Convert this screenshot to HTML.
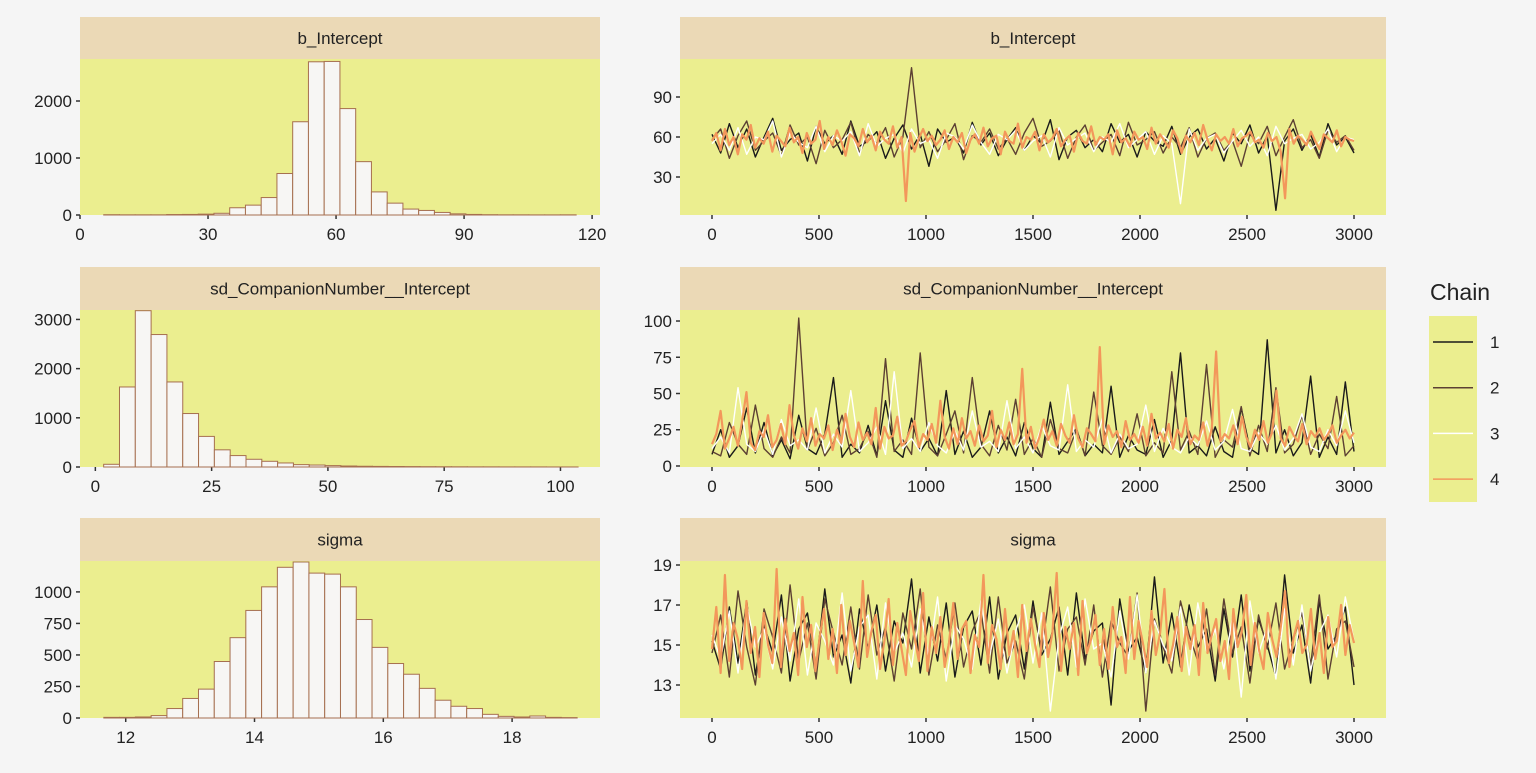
<!DOCTYPE html>
<html><head><meta charset="utf-8"><style>
html,body{margin:0;padding:0;background:#f5f5f5;}
svg text{font-family:"Liberation Sans",sans-serif;fill:#222;}
</style></head><body>
<svg id="c" width="1536" height="768" xmlns="http://www.w3.org/2000/svg">
<rect width="1536" height="768" fill="#f5f5f5"/>
<g id="legend">
<text x="1430" y="300" font-size="23">Chain</text>
<rect x="1429" y="316" width="48" height="186" fill="#ebee8f"/>
</g>
</svg>
<script>
// histogram data
const h1Start = 5.56, h1Width = 3.69;
const h1Counts = [5,3,3,3,8,10,15,30,127,173,306,728,1636,2688,2694,1867,936,405,208,104,80,45,20,10,5,3,3,2,2,3];
const h2Start = 1.79, h2Width = 3.4;
const h2Counts = [55,1627,3178,2693,1729,1087,622,349,232,157,116,82,48,40,28,20,15,12,10,8,6,5,4,3,3,2,2,2,1,1];
const h3Start = 11.66, h3Width = 0.245;
const h3Counts = [5,5,8,19,75,155,229,448,637,853,1040,1195,1237,1149,1141,1040,781,560,432,347,235,141,93,75,29,13,8,16,5,3];
const h1XTicks = [0,30,60,90,120], h1YTicks = [0,1000,2000];
const h2XTicks = [0,25,50,75,100], h2YTicks = [0,1000,2000,3000];
const h3XTicks = [12,14,16,18], h3YTicks = [0,250,500,750,1000];
const traceXTicks = [0,500,1000,1500,2000,2500,3000];
const t1YTicks = [30,60,90], t2YTicks = [0,25,50,75,100], t3YTicks = [13,15,17,19];
const chainNames = ["1","2","3","4"];
const chainColors = ["#1a1a1a","#5c4033","#ffffff","#f3975b"];
// trace data (values sampled evenly over 0..3000 iterations)
const b1 = [62,48,70,52,66,45,60,74,50,58,63,42,68,55,61,47,72,53,57,64,44,59,69,51,62,38,66,56,60,48,71,54,63,46,58,67,50,61,55,73,43,60,65,52,58,49,70,56,62,45,64,57,53,68,47,60,66,51,59,42,63,55,69,48,61,5,57,66,50,62,45,70,54,60,48];
const b2 = [58,66,44,61,72,50,57,63,46,69,54,60,40,65,52,58,71,48,62,55,67,45,60,112,52,64,49,58,70,43,61,56,66,51,59,47,63,74,53,57,65,44,60,69,50,56,62,46,71,54,58,64,48,60,52,67,45,59,63,50,57,38,62,55,68,46,60,73,52,58,44,65,56,61,50];
const b3 = [55,62,50,67,47,60,58,72,45,63,56,52,68,49,61,57,64,46,70,53,59,62,48,66,55,58,44,63,60,51,69,56,47,62,58,65,50,57,61,45,67,54,59,63,49,60,56,70,52,58,64,47,61,55,10,66,50,59,62,48,57,65,53,60,46,68,55,59,62,51,56,66,49,60,58];
const b4 = [57,63,50,66,54,60,47,62,58,69,52,59,55,64,49,61,57,53,67,56,60,48,63,55,58,72,51,60,54,65,57,46,62,59,53,66,56,61,50,64,58,55,68,52,60,12,63,49,59,66,57,61,54,58,65,51,60,56,63,48,58,62,55,67,53,59,61,47,64,57,55,70,52,60,58,64,50,62,56,59,66,53,58,61,49,63,57,55,68,54,60,58,62,47,65,56,59,53,64,58,60,51,67,55,62,57,52,65,59,48,61,56,63,54,69,58,50,62,57,60,55,66,53,59,61,64,56,58,52,63,57,60,49,14,66,55,61,58,54,64,57,51,62,59,56,65,53,60,58,57];
const s1 = [8,25,6,14,40,9,30,7,18,5,35,12,8,22,61,6,15,9,28,7,45,11,6,33,10,19,7,52,8,24,6,13,38,9,20,7,30,12,6,44,8,17,26,7,15,9,55,6,21,11,8,32,6,18,78,9,14,7,27,10,6,40,12,8,87,9,25,7,16,62,6,20,8,58,10];
const s2 = [10,7,30,15,8,42,12,6,20,9,102,11,26,7,16,35,8,12,24,6,74,10,18,8,78,13,7,22,38,9,61,15,7,28,11,46,8,19,6,32,12,9,25,7,51,14,8,20,10,36,7,16,9,65,11,24,8,70,6,18,13,41,7,28,10,54,9,15,35,8,22,12,48,7,14];
const s3 = [12,20,9,54,15,10,25,8,32,14,18,11,40,9,22,13,52,10,16,27,8,65,12,19,10,30,14,9,24,11,38,13,17,10,45,12,20,9,28,14,11,56,10,18,13,33,9,22,12,15,42,10,26,13,9,20,14,31,11,17,39,12,10,23,15,28,11,19,36,13,10,25,14,38,16];
const s4 = [15,22,38,12,19,27,14,31,51,16,11,24,20,35,13,18,29,15,42,21,12,26,17,33,14,22,19,28,11,25,16,36,20,13,30,18,23,15,40,12,27,19,21,34,14,17,25,31,13,22,18,29,16,45,20,12,26,15,33,19,24,14,28,17,21,38,13,25,18,30,15,22,67,16,27,12,20,32,18,24,14,29,21,16,35,19,13,26,22,17,82,15,28,20,24,13,31,18,22,16,27,14,36,19,23,17,29,12,25,20,33,15,21,18,30,14,26,79,17,22,19,28,15,34,20,13,25,18,31,16,23,52,19,14,27,21,17,29,15,24,20,26,18,22,28,16,21,25,19,23];
const g1 = [15.2,13.8,16.9,14.1,17.2,13.5,16.0,14.6,17.5,13.2,15.8,16.6,13.9,17.8,14.4,15.5,13.1,16.8,14.8,17.0,13.7,16.2,15.1,18.3,13.6,16.4,14.2,17.1,13.4,15.9,16.7,14.0,17.4,13.3,15.6,16.5,13.8,17.2,14.5,15.3,16.9,13.5,17.6,14.3,15.7,16.1,12.0,17.3,14.7,15.4,13.6,18.4,14.1,16.6,13.9,17.0,14.9,15.8,13.2,16.8,14.4,17.5,13.7,16.3,15.0,13.4,18.5,14.6,16.0,13.1,17.2,14.8,15.5,16.9,13.0];
const g2 = [14.6,16.5,13.4,17.7,14.9,13.0,16.8,15.4,13.6,18.0,14.2,16.1,13.3,17.3,15.6,14.0,16.9,13.8,17.5,14.5,15.9,13.2,16.6,14.8,17.8,13.5,16.0,14.3,17.1,13.9,15.7,16.7,13.6,17.4,14.1,15.2,13.3,16.9,14.7,17.9,13.7,15.8,16.4,14.0,17.0,13.4,16.2,15.1,14.4,17.6,11.7,16.3,14.9,13.6,17.2,15.5,14.2,16.8,13.5,17.3,14.6,15.9,13.1,16.5,14.8,17.1,13.8,15.3,16.6,14.0,17.5,13.3,15.8,16.2,13.9];
const g3 = [15.5,14.3,16.7,13.6,17.0,14.9,15.8,13.8,16.4,14.2,17.3,13.5,16.1,15.2,14.0,17.6,13.7,15.9,16.5,13.3,17.1,14.6,15.6,13.9,16.8,14.4,17.4,13.2,16.0,15.3,13.8,17.2,14.5,16.3,13.6,15.7,17.0,14.1,16.6,11.7,15.4,16.9,13.9,17.3,14.8,15.1,13.4,16.7,14.3,17.5,13.6,16.2,15.0,14.2,16.9,13.5,17.1,14.7,15.8,13.8,16.4,12.4,17.2,14.6,15.9,13.3,16.8,14.0,17.0,13.7,15.6,16.5,14.4,17.4,15.2];
const g4 = [14.8,16.9,13.6,18.5,14.2,16.1,15.3,13.8,17.2,14.6,15.9,13.4,16.6,15.0,14.1,18.8,13.9,16.3,14.7,15.6,13.5,17.4,14.9,16.0,13.7,15.4,16.8,14.3,15.8,13.6,17.0,14.5,16.2,15.1,13.9,18.2,14.4,15.7,16.5,13.8,15.2,17.3,14.0,16.1,14.8,13.5,16.7,15.4,14.2,17.6,13.7,15.9,14.6,16.4,13.9,15.1,17.1,14.3,15.8,16.2,13.6,15.5,14.9,18.5,14.1,16.0,15.3,13.8,16.8,14.5,15.7,13.4,17.0,14.7,16.3,15.0,13.9,16.6,14.4,15.6,18.6,13.7,15.9,14.8,16.1,13.5,17.2,14.6,15.3,16.5,14.0,15.8,13.8,16.9,14.9,15.4,13.6,17.4,14.3,16.2,15.1,13.9,16.7,14.5,15.6,17.8,14.1,15.0,16.4,13.7,15.9,14.8,16.0,13.5,17.1,14.6,15.5,16.3,14.2,15.2,13.3,16.8,14.9,15.7,17.5,14.0,16.1,14.7,13.8,16.6,15.3,14.4,15.9,17.7,13.9,15.4,16.2,14.6,15.0,16.8,14.3,15.6,13.6,16.4,14.9,15.2,17.0,14.5,16.0,15.1];

const NS = "http://www.w3.org/2000/svg";
const svg = document.getElementById('c');
const legend = document.getElementById('legend');

function panel(name, title, x0, x1, top, y0, y1, xd, yd, xt, yt){
  const g = document.createElementNS(NS,'g');
  
  
  svg.insertBefore(g, legend);
  const add=(tag,a)=>{const e=document.createElementNS(NS,tag);for(const k in a)e.setAttribute(k,a[k]);g.appendChild(e);return e;};
  const strip = add('rect',{x:x0,y:top,width:x1-x0,height:y0-top,fill:'#ebd9b6'});
  
  
  const st = add('text',{x:(x0+x1)/2,y:(top+y0)/2+6,'font-size':17,'text-anchor':'middle'});
  st.textContent = title;
  
  
  const bg = add('rect',{x:x0,y:y0,width:x1-x0,height:y1-y0,fill:'#ebee8f'});
  
  
  const sx = v => x0 + (v-xd[0])/(xd[1]-xd[0])*(x1-x0);
  const sy = v => y1 - (v-yd[0])/(yd[1]-yd[0])*(y1-y0);
  xt.forEach(v=>{
    add('line',{x1:sx(v),x2:sx(v),y1:y1,y2:y1+4,stroke:'#333','stroke-width':1.5});
    const t=add('text',{x:sx(v),y:y1+25,'font-size':17,'text-anchor':'middle'});
    t.textContent=v;
    
    
  });
  yt.forEach(v=>{
    add('line',{x1:x0-4,x2:x0,y1:sy(v),y2:sy(v),stroke:'#333','stroke-width':1.5});
    const t=add('text',{x:x0-8,y:sy(v)+6,'font-size':17,'text-anchor':'end'});
    t.textContent=v;
    
    
  });
  return {g,add,sx,sy};
}

function hist(p, start, width, counts){
  counts.forEach((c,i)=>{
    const a = p.sx(start+i*width), b = p.sx(start+(i+1)*width);
    const r = p.add('rect',{x:a,y:p.sy(c),width:b-a,height:p.sy(0)-p.sy(c),fill:'#f7f6f4',stroke:'#a66f4f','stroke-width':1});
    
    
  });
}
function trace(p, series){
  series.forEach((arr,ci)=>{
    const n = arr.length;
    const pts = arr.map((v,i)=>p.sx(i*3000/(n-1)).toFixed(2)+','+p.sy(v).toFixed(2)).join(' ');
    const l = p.add('polyline',{points:pts,fill:'none',stroke:chainColors[ci],'stroke-width':ci==3?2.2:1.4,'stroke-linejoin':'round'});
    
    
  });
}

const tx = [-149.5, 3149.5];
hist(panel('hist-b-intercept','b_Intercept',80,600,17,59,215,[0,121.85],[0,2737],h1XTicks,h1YTicks),h1Start,h1Width,h1Counts);
hist(panel('hist-sd-companion','sd_CompanionNumber__Intercept',80,600,267,310,467,[-3.3,108.5],[0,3192],h2XTicks,h2YTicks),h2Start,h2Width,h2Counts);
hist(panel('hist-sigma','sigma',80,600,518,561,718,[11.29,19.365],[0,1245],h3XTicks,h3YTicks),h3Start,h3Width,h3Counts);
trace(panel('trace-b-intercept','b_Intercept',680,1386,17,59,215,tx,[1.5,118.5],traceXTicks,t1YTicks),[b1,b2,b3,b4]);
trace(panel('trace-sd-companion','sd_CompanionNumber__Intercept',680,1386,267,310,467,tx,[-0.7,107.6],traceXTicks,t2YTicks),[s1,s2,s3,s4]);
trace(panel('trace-sigma','sigma',680,1386,518,561,718,tx,[11.35,19.2],traceXTicks,t3YTicks),[g1,g2,g3,g4]);

chainNames.forEach((nm,i)=>{
  const y = 342 + i*45.7;
  const l=document.createElementNS(NS,'line');
  l.setAttribute('x1',1433);l.setAttribute('x2',1473);l.setAttribute('y1',y);l.setAttribute('y2',y);
  l.setAttribute('stroke',chainColors[i]);l.setAttribute('stroke-width',1.5);
  
  
  legend.appendChild(l);
  const t=document.createElementNS(NS,'text');
  t.setAttribute('x',1490);t.setAttribute('y',y+6);t.setAttribute('font-size',17);
  t.textContent=nm;
  
  
  legend.appendChild(t);
});
</script>
</body></html>
